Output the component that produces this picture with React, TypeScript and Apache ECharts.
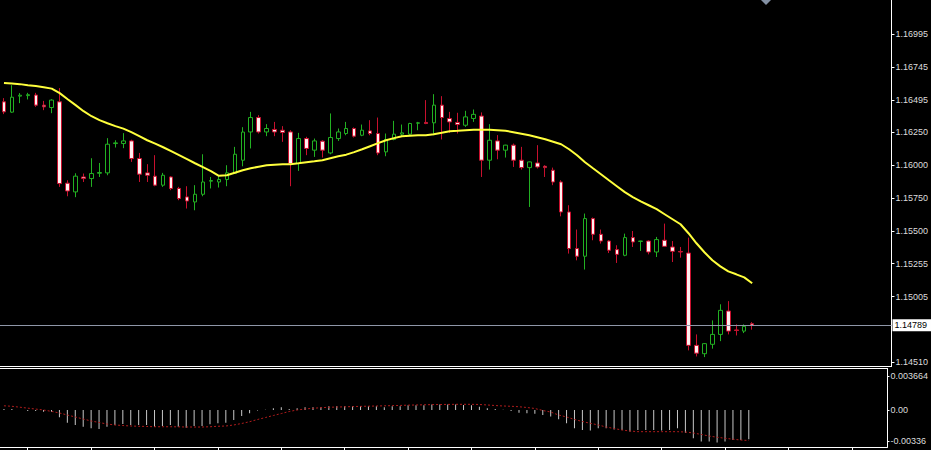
import React, { useEffect, useRef } from "react";
import * as echarts from "echarts";

const BAR_SLOTS = 112;
const categories: string[] = Array.from({ length: BAR_SLOTS }, (_, i) => String(i + 1));

const openPrices = [
  1.16480, 1.16402, 1.16523, 1.16527, 1.16531, 1.16455, 1.16437, 1.16480, 1.15864, 1.15798,
  1.15911, 1.15899, 1.15939, 1.15942, 1.16164, 1.16164, 1.16184, 1.16051, 1.15942, 1.15917,
  1.15849, 1.15911, 1.15824, 1.15760, 1.15722, 1.15780, 1.15879, 1.15873, 1.15892, 1.15939,
  1.16038, 1.16252, 1.16361, 1.16252, 1.16271, 1.16265, 1.16252, 1.16013, 1.16202, 1.16114,
  1.16182, 1.16093, 1.16202, 1.16240, 1.16278, 1.16227, 1.16260, 1.16240, 1.16101, 1.16195,
  1.16235, 1.16235, 1.16318, 1.16324, 1.16321, 1.16455, 1.16354, 1.16324, 1.16303, 1.16354,
  1.16372, 1.16038, 1.16184, 1.16114, 1.16152, 1.16038, 1.15982, 1.16017, 1.15992, 1.15962,
  1.15873, 1.15646, 1.15369, 1.15311, 1.15596, 1.15477, 1.15426, 1.15361, 1.15318, 1.15452,
  1.15423, 1.15426, 1.15343, 1.15432, 1.15381, 1.15347, 1.15335, 1.14636, 1.14573, 1.14644,
  1.14719, 1.14896, 1.14753, 1.14744, 1.14800,
];
const closePrices = [
  1.16404, 1.16515, 1.16530, 1.16534, 1.16455, 1.16442, 1.16493, 1.15861, 1.15805, 1.15917,
  1.15899, 1.15937, 1.15945, 1.16159, 1.16169, 1.16184, 1.16051, 1.15932, 1.15924, 1.15849,
  1.15924, 1.15824, 1.15748, 1.15729, 1.15780, 1.15873, 1.15884, 1.15892, 1.15942, 1.16083,
  1.16251, 1.16361, 1.16252, 1.16278, 1.16252, 1.16248, 1.16013, 1.16202, 1.16127, 1.16184,
  1.16114, 1.16210, 1.16252, 1.16278, 1.16220, 1.16265, 1.16240, 1.16093, 1.16195, 1.16235,
  1.16245, 1.16316, 1.16321, 1.16316, 1.16455, 1.16361, 1.16328, 1.16308, 1.16366, 1.16385,
  1.16038, 1.16189, 1.16114, 1.16152, 1.16038, 1.15982, 1.16025, 1.15987, 1.15982, 1.15873,
  1.15646, 1.15369, 1.15311, 1.15596, 1.15477, 1.15426, 1.15356, 1.15325, 1.15452, 1.15419,
  1.15426, 1.15343, 1.15437, 1.15386, 1.15348, 1.15343, 1.14636, 1.14577, 1.14649, 1.14719,
  1.14901, 1.14744, 1.14749, 1.14780, 1.14789,
];
const lowPrices = [
  1.16387, 1.16397, 1.16470, 1.16498, 1.16442, 1.16417, 1.16394, 1.15836, 1.15765, 1.15758,
  1.15873, 1.15836, 1.15911, 1.15924, 1.16134, 1.16129, 1.16025, 1.15873, 1.15873, 1.15841,
  1.15836, 1.15811, 1.15735, 1.15672, 1.15659, 1.15765, 1.15824, 1.15831, 1.15841, 1.15934,
  1.15992, 1.16127, 1.16240, 1.16220, 1.16220, 1.16177, 1.15841, 1.15957, 1.16076, 1.16063,
  1.16058, 1.16083, 1.16184, 1.16227, 1.16210, 1.16220, 1.16227, 1.16076, 1.16068, 1.16189,
  1.16215, 1.16227, 1.16265, 1.16311, 1.16227, 1.16195, 1.16245, 1.16240, 1.16290, 1.16328,
  1.15911, 1.15967, 1.16045, 1.16058, 1.15987, 1.15967, 1.15684, 1.15975, 1.15911, 1.15849,
  1.15613, 1.15331, 1.15280, 1.15210, 1.15432, 1.15407, 1.15335, 1.15260, 1.15311, 1.15381,
  1.15351, 1.15325, 1.15305, 1.15381, 1.15267, 1.15300, 1.14598, 1.14552, 1.14547, 1.14611,
  1.14668, 1.14719, 1.14711, 1.14729, 1.14755,
];
const highPrices = [
  1.16508, 1.16606, 1.16546, 1.16548, 1.16548, 1.16487, 1.16500, 1.16584, 1.15886, 1.15939,
  1.15937, 1.16053, 1.16017, 1.16205, 1.16189, 1.16243, 1.16193, 1.16093, 1.16008, 1.16076,
  1.15942, 1.15917, 1.15836, 1.15841, 1.15849, 1.16083, 1.15911, 1.15917, 1.16000, 1.16139,
  1.16288, 1.16404, 1.16379, 1.16311, 1.16328, 1.16296, 1.16265, 1.16245, 1.16215, 1.16202,
  1.16189, 1.16392, 1.16278, 1.16328, 1.16286, 1.16308, 1.16341, 1.16361, 1.16240, 1.16336,
  1.16308, 1.16321, 1.16328, 1.16493, 1.16538, 1.16523, 1.16404, 1.16397, 1.16412, 1.16422,
  1.16400, 1.16311, 1.16228, 1.16155, 1.16164, 1.16139, 1.16028, 1.16152, 1.16000, 1.15982,
  1.15886, 1.15697, 1.15513, 1.15634, 1.15604, 1.15513, 1.15432, 1.15394, 1.15482, 1.15502,
  1.15428, 1.15432, 1.15457, 1.15558, 1.15426, 1.15381, 1.15452, 1.14719, 1.14653, 1.14825,
  1.14947, 1.14971, 1.14795, 1.14795, 1.14812,
];
const maValues = [
  1.16622, 1.16618, 1.16614, 1.16606, 1.16599, 1.16591, 1.16580, 1.16546, 1.16500, 1.16455,
  1.16409, 1.16371, 1.16341, 1.16318, 1.16296, 1.16277, 1.16250, 1.16220, 1.16189, 1.16163,
  1.16136, 1.16106, 1.16076, 1.16046, 1.16015, 1.15985, 1.15955, 1.15920, 1.15924, 1.15943,
  1.15962, 1.15977, 1.15989, 1.16000, 1.16004, 1.16008, 1.16008, 1.16015, 1.16023, 1.16030,
  1.16038, 1.16053, 1.16068, 1.16080, 1.16099, 1.16121, 1.16144, 1.16167, 1.16189, 1.16205,
  1.16220, 1.16224, 1.16227, 1.16227, 1.16235, 1.16246, 1.16258, 1.16261, 1.16265, 1.16269,
  1.16269, 1.16269, 1.16265, 1.16261, 1.16250, 1.16239, 1.16227, 1.16212, 1.16197, 1.16178,
  1.16159, 1.16121, 1.16076, 1.16023, 1.15977, 1.15932, 1.15886, 1.15841, 1.15796, 1.15758,
  1.15727, 1.15697, 1.15667, 1.15629, 1.15591, 1.15553, 1.15485, 1.15409, 1.15341, 1.15280,
  1.15234, 1.15196, 1.15174, 1.15151, 1.15106,
];
const macdValues = [
  0.0001, 0.0001, 0.0, -0.0001, -0.0001, -0.0002, -0.0002, -0.00079, -0.00136, -0.00161,
  -0.00179, -0.00197, -0.00204, -0.00179, -0.00161, -0.00151, -0.00161, -0.00161, -0.00161, -0.00179,
  -0.00172, -0.00161, -0.00179, -0.0019, -0.00172, -0.00172, -0.00154, -0.00143, -0.00136, -0.00108,
  -0.00065, -0.00036, -0.00005, 0.00002, 0.0002, 0.0003, 0.0001, 0.0002, 0.0003, 0.0003,
  0.0003, 0.0004, 0.0004, 0.0004, 0.0004, 0.0004, 0.0004, 0.0004, 0.0003, 0.0004,
  0.0004, 0.0005, 0.0005, 0.0005, 0.0006, 0.0006, 0.0006, 0.0006, 0.00054, 0.0005,
  0.00036, 0.0002, 0.0001, 0.00002, -0.0001, -0.0003, -0.00036, -0.0004, -0.00054, -0.0007,
  -0.001, -0.00143, -0.00197, -0.00215, -0.0022, -0.00197, -0.00197, -0.0021, -0.00215, -0.0023,
  -0.00215, -0.00215, -0.00215, -0.0022, -0.00215, -0.00197, -0.00244, -0.00305, -0.0034, -0.0034,
  -0.0035, -0.0034, -0.00323, -0.00323, -0.00315,
];
const signalValues = [
  0.00045, 0.0004, 0.0003, 0.0002, 0.0001, 0.0, -0.00015, -0.00032, -0.00054, -0.00075,
  -0.00097, -0.00118, -0.00134, -0.00151, -0.00161, -0.00167, -0.00172, -0.00175, -0.00177, -0.0018,
  -0.0018, -0.0018, -0.00181, -0.00183, -0.00183, -0.00183, -0.0018, -0.00175, -0.00172, -0.00161,
  -0.00145, -0.00126, -0.00102, -0.00081, -0.00059, -0.00038, -0.00016, 0.0, 0.00011, 0.00018,
  0.00025, 0.00029, 0.00032, 0.00034, 0.00037, 0.00039, 0.00041, 0.00043, 0.00045, 0.00047,
  0.00049, 0.00052, 0.00054, 0.00056, 0.00058, 0.00059, 0.0006, 0.00061, 0.00061, 0.00061,
  0.00059, 0.00054, 0.00048, 0.00043, 0.0004, 0.00035, 0.00027, 0.00016, -0.00005, -0.00022,
  -0.00054, -0.00075, -0.00102, -0.00124, -0.00143, -0.00161, -0.00183, -0.00199, -0.00215, -0.00226,
  -0.00233, -0.00233, -0.00233, -0.00233, -0.00233, -0.00233, -0.00237, -0.00247, -0.00263, -0.0028,
  -0.00293, -0.00304, -0.00314, -0.00323, -0.00328,
];

const priceTicks = [1.16995, 1.16745, 1.16495, 1.1625, 1.16, 1.1575, 1.155, 1.15255, 1.15005, 1.1451];
const macdTicks = [0.003664, 0, -0.00336];
const macdTickLabels = ["0.003664", "0.00", "-0.00336"];
const lastPrice = 1.14789;

const FONT = "Liberation Sans, Arial, sans-serif";
const WHITE_LINE = { show: true, onZero: false, lineStyle: { color: "#ffffff", width: 1 } };

export default function App() {
  const ref = useRef<HTMLDivElement>(null);

  useEffect(() => {
    if (!ref.current) return;
    const chart = echarts.init(ref.current, undefined, { renderer: "svg" });
    const candles = openPrices.map((o, i) => [o, closePrices[i], lowPrices[i], highPrices[i]]);

    const option: any = {
      animation: false,
      backgroundColor: "#000000",
      graphic: [
        {
          type: "polygon",
          shape: { points: [[761, 0], [771, 0], [766, 5]] },
          style: { fill: "#8390a3" },
        },
      ],
      grid: [
        { left: -4.5, top: 0, width: 896, height: 366.5, show: false },
        { left: -4.5, top: 368.5, width: 896, height: 78.5, show: false },
      ],
      xAxis: [
        {
          type: "category",
          gridIndex: 0,
          data: categories,
          boundaryGap: true,
          axisLine: WHITE_LINE,
          axisTick: { show: false },
          axisLabel: { show: false },
          splitLine: { show: false },
        },
        {
          type: "category",
          gridIndex: 1,
          position: "bottom",
          data: categories,
          boundaryGap: true,
          axisLine: WHITE_LINE,
          axisTick: {
            show: true,
            alignWithLabel: true,
            interval: (i: number) => i % 8 === 3,
            length: 3,
            lineStyle: { color: "#ffffff" },
          },
          axisLabel: { show: false },
          splitLine: { show: false },
        },
        {
          type: "category",
          gridIndex: 1,
          position: "top",
          data: categories,
          boundaryGap: true,
          axisLine: WHITE_LINE,
          axisTick: { show: false },
          axisLabel: { show: false },
          splitLine: { show: false },
        },
      ],
      yAxis: [
        {
          type: "value",
          gridIndex: 0,
          position: "right",
          min: 1.14476,
          max: 1.17251,
          axisLine: WHITE_LINE,
          axisTick: { show: true, length: 3, customValues: priceTicks, lineStyle: { color: "#ffffff" } },
          axisLabel: {
            customValues: priceTicks,
            formatter: (v: number) => v.toFixed(5),
            color: "#dcdcdc",
            fontSize: 9,
            fontFamily: FONT,
            margin: 4,
          },
          splitLine: { show: false },
        },
        {
          type: "value",
          gridIndex: 1,
          position: "right",
          min: -0.003978,
          max: 0.004461,
          axisLine: WHITE_LINE,
          axisTick: { show: true, length: 2, customValues: macdTicks, lineStyle: { color: "#ffffff" } },
          axisLabel: {
            customValues: macdTicks,
            formatter: (v: number) => {
              let best = 0;
              for (let i = 0; i < macdTicks.length; i++) {
                if (Math.abs(macdTicks[i] - v) < Math.abs(macdTicks[best] - v)) best = i;
              }
              return macdTickLabels[best];
            },
            color: "#dcdcdc",
            fontSize: 9,
            fontFamily: FONT,
            margin: 3,
          },
          splitLine: { show: false },
        },
      ],
      series: [
        {
          type: "candlestick",
          xAxisIndex: 0,
          yAxisIndex: 0,
          data: candles,
          barWidth: 4,
          itemStyle: {
            color: "#000000",
            color0: "#fff0f0",
            borderColor: "#22b022",
            borderColor0: "#c8102e",
            borderWidth: 1,
          },
        },
        {
          type: "line",
          xAxisIndex: 0,
          yAxisIndex: 0,
          data: maValues,
          symbol: "none",
          lineStyle: { color: "#ffff3c", width: 2 },
          markLine: {
            silent: true,
            precision: 5,
            symbol: ["none", "none"],
            data: [{ yAxis: lastPrice }],
            lineStyle: { color: "#8f97a8", width: 1, type: "solid" },
            label: {
              show: true,
              position: "end",
              distance: 1,
              formatter: lastPrice.toFixed(5),
              backgroundColor: "#ffffff",
              color: "#000000",
              fontSize: 9,
              fontFamily: FONT,
              padding: [2, 4, 1, 2],
            },
          },
        },
        {
          type: "bar",
          xAxisIndex: 1,
          yAxisIndex: 1,
          data: macdValues,
          barWidth: 1,
          itemStyle: { color: "#c8c8c8" },
        },
        {
          type: "line",
          xAxisIndex: 1,
          yAxisIndex: 1,
          data: signalValues,
          symbol: "none",
          lineStyle: { color: "#b01c1c", width: 1, type: [2, 2] },
        },
      ],
    };
    chart.setOption(option);
    return () => chart.dispose();
  }, []);

  return (
    <div
      ref={ref}
      style={{ position: "absolute", left: 0, top: 0, width: 931, height: 450, background: "#000" }}
    />
  );
}
